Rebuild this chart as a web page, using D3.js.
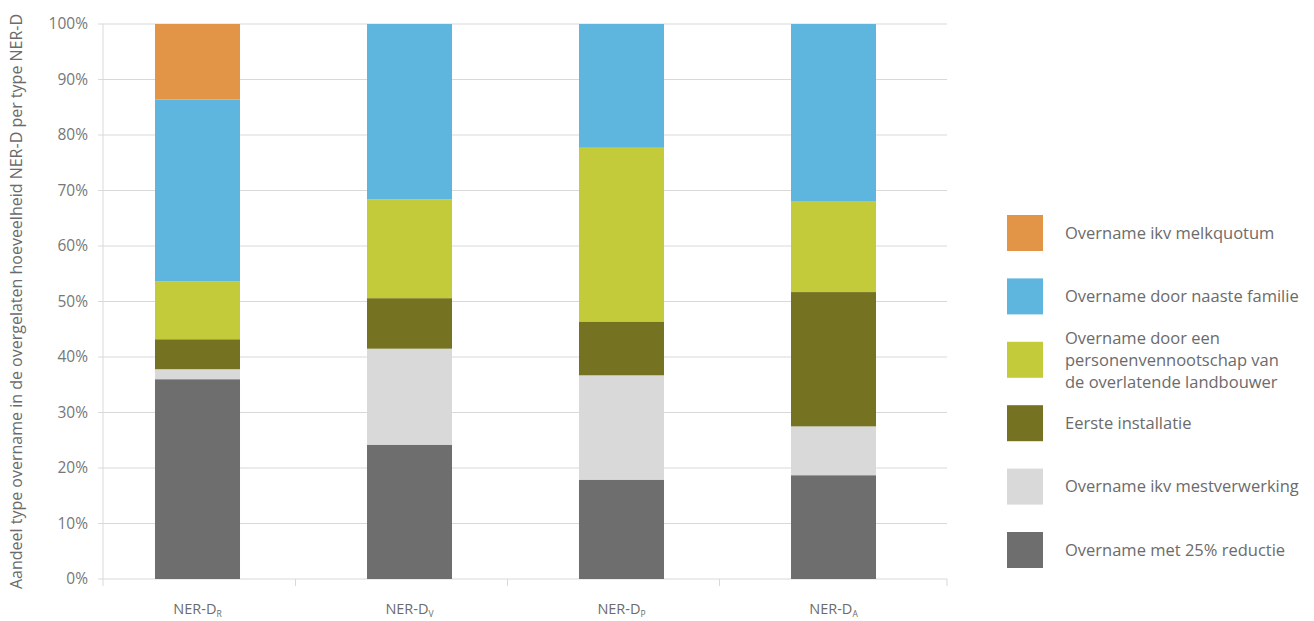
<!DOCTYPE html>
<html>
<head>
<meta charset="utf-8">
<script src="https://cdn.jsdelivr.net/npm/d3@7"></script>
<style>
  html, body { margin: 0; padding: 0; background: #fff; }
  svg { display: block; font-family: "Open Sans", "DejaVu Sans", sans-serif; }
</style>
</head>
<body>
<svg id="chart" width="1314" height="621"></svg>
<script>
// Categories (NER-D types) with their subscript letters
const categories = ["R", "V", "P", "A"];

// Series, listed bottom to top of each stack (percentages per type)
const seriesNames = [
  "Overname met 25% reductie",
  "Overname ikv mestverwerking",
  "Eerste installatie",
  "Overname door een personenvennootschap van de overlatende landbouwer",
  "Overname door naaste familie",
  "Overname ikv melkquotum"
];
const reductie       = [36.0, 24.2, 17.9, 18.7];
const mestverwerking = [1.8, 17.3, 18.8, 8.8];
const eersteInst     = [5.4, 9.1, 9.7, 24.2];
const vennootschap   = [10.4, 17.8, 31.3, 16.4];
const familie        = [32.8, 31.6, 22.3, 31.9];
const melkquotum     = [13.6, 0, 0, 0];

const colors = ["#6e6e6e", "#d9d9d9", "#757221", "#c3cb3b", "#5eb6df", "#e29547"];

// Legend entries, top to bottom, with wrapped lines
const legendItems = [
  { series: 5, lines: ["Overname ikv melkquotum"] },
  { series: 4, lines: ["Overname door naaste familie"] },
  { series: 3, lines: ["Overname door een", "personenvennootschap van", "de overlatende landbouwer"] },
  { series: 2, lines: ["Eerste installatie"] },
  { series: 1, lines: ["Overname ikv mestverwerking"] },
  { series: 0, lines: ["Overname met 25% reductie"] }
];

const yTicks = [0, 10, 20, 30, 40, 50, 60, 70, 80, 90, 100];
const yTitle = "Aandeel type overname in de overgelaten hoeveelheid NER-D per type NER-D";

const values = [reductie, mestverwerking, eersteInst, vennootschap, familie, melkquotum];
const rows = categories.map((c, i) => {
  const r = { cat: c };
  seriesNames.forEach((s, k) => { r[s] = values[k][i]; });
  return r;
});

const svg = d3.select("#chart");
const plotLeft = 103, plotRight = 947, plotTop = 24, plotBottom = 579;

const x = d3.scaleBand().domain(categories).range([91.5, 939.5])
  .paddingInner(0.599).paddingOuter(0.2995);
const y = d3.scaleLinear().domain([0, 100]).range([plotBottom, plotTop]);

const textColor = "#6b6b6b";
const gridColor = "#d9d9d9";

// Gridlines
svg.append("g").selectAll("line").data(yTicks).join("line")
  .attr("x1", plotLeft - 5).attr("x2", plotRight)
  .attr("y1", d => y(d)).attr("y2", d => y(d))
  .attr("stroke", gridColor).attr("stroke-width", 1);

// Vertical axis line
svg.append("line")
  .attr("x1", plotLeft).attr("x2", plotLeft)
  .attr("y1", plotTop).attr("y2", plotBottom)
  .attr("stroke", gridColor);

// Y tick labels
svg.append("g").selectAll("text").data(yTicks).join("text")
  .attr("x", 88).attr("y", d => y(d))
  .attr("dy", "0.35em").attr("text-anchor", "end")
  .attr("font-size", 15.5).attr("fill", "#777")
  .text(d => d + "%");

// Y axis title
svg.append("text")
  .attr("transform", `translate(22,${(plotTop + plotBottom) / 2}) rotate(-90)`)
  .attr("text-anchor", "middle")
  .attr("font-size", 16).attr("fill", textColor)
  .text(yTitle);

// Category ticks on the baseline: ends of the axis and between the bars
const cats = x.domain();
const tickXs = [plotLeft];
for (let i = 0; i < cats.length - 1; i++) {
  tickXs.push(x(cats[i]) + x.step() - (x.step() - x.bandwidth()) / 2 - 8);
}
tickXs.push(plotRight);
svg.append("g").selectAll("line").data(tickXs).join("line")
  .attr("x1", d => d).attr("x2", d => d)
  .attr("y1", plotBottom).attr("y2", plotBottom + 7)
  .attr("stroke", gridColor);

// Stacked bars
const stack = d3.stack().keys(seriesNames);
const stacked = stack(rows);
svg.append("g").selectAll("g").data(stacked).join("g")
  .attr("fill", (d, i) => colors[i])
  .selectAll("rect").data(d => d).join("rect")
  .attr("x", d => x(d.data.cat))
  .attr("width", x.bandwidth())
  .attr("y", d => y(d[1]))
  .attr("height", d => Math.max(0, y(d[0]) - y(d[1])));

// Category labels "NER-D" with subscript
const lab = svg.append("g").selectAll("text").data(categories).join("text")
  .attr("x", d => x(d) + x.bandwidth() / 2)
  .attr("y", 614)
  .attr("text-anchor", "middle")
  .attr("font-size", 14.5).attr("fill", textColor);
lab.append("tspan").text("NER-D");
lab.append("tspan").attr("font-size", 8.5).attr("dy", 3).text(d => d);

// Legend
const legend = svg.append("g");
const lgY0 = 215, lgStep = 63.4, sw = 36;
legendItems.forEach((item, i) => {
  const top = lgY0 + i * lgStep;
  legend.append("rect")
    .attr("x", 1007).attr("y", top)
    .attr("width", sw).attr("height", sw)
    .attr("fill", colors[item.series]);
  const lh = 22;
  const cy = top + sw / 2;
  const t = legend.append("text")
    .attr("x", 1065)
    .attr("font-size", 16.5).attr("fill", textColor);
  item.lines.forEach((ln, j) => {
    t.append("tspan")
      .attr("x", 1065)
      .attr("y", cy + (j - (item.lines.length - 1) / 2) * lh)
      .attr("dy", "0.35em")
      .text(ln);
  });
});
</script>
</body>
</html>
